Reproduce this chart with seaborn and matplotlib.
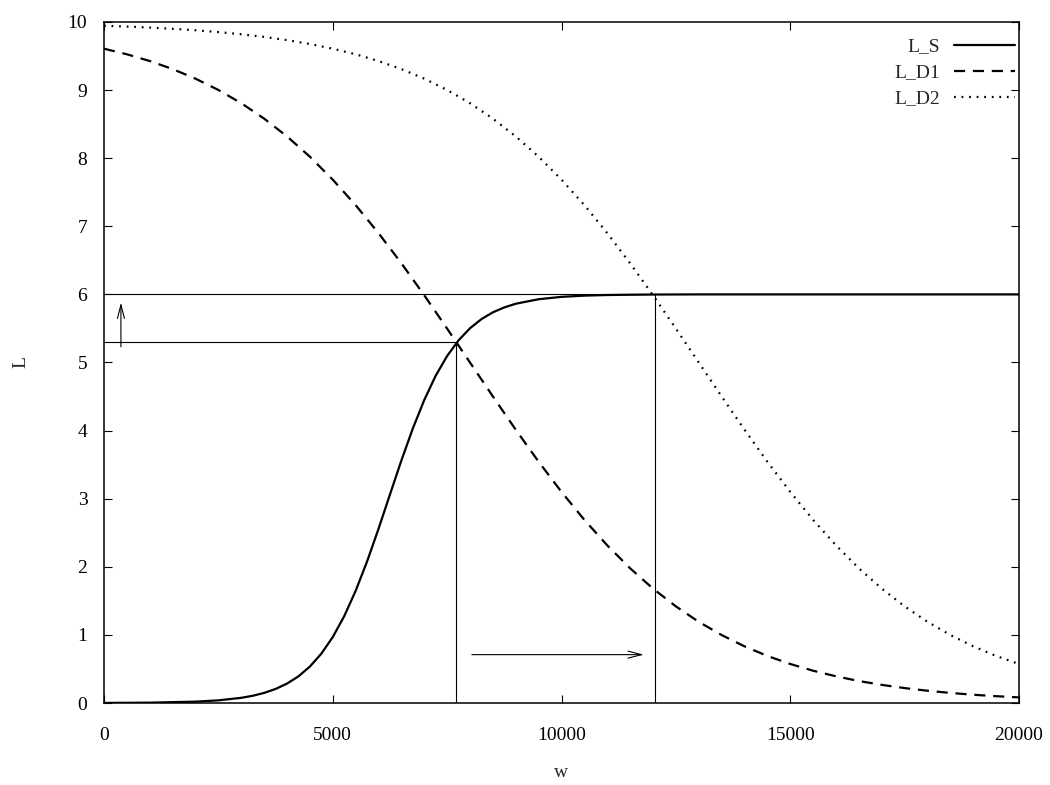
import matplotlib
matplotlib.use("Agg")
import matplotlib.pyplot as plt
import seaborn as sns
import pandas as pd

# ---- data ----
w_s = [0, 1000, 2000, 2500, 3000, 3250, 3500, 3750, 4000, 4250, 4500, 4750,
       5000, 5250, 5500, 5750, 6000, 6250, 6500, 6750, 7000, 7250, 7500, 7750,
       8000, 8250, 8500, 8750, 9000, 9500, 10000, 10500, 11000, 11500, 12000,
       13000, 14000, 16000, 18000, 20000]
L_S = [0.001, 0.005, 0.020, 0.039, 0.076, 0.106, 0.148, 0.206, 0.285, 0.391,
       0.535, 0.724, 0.968, 1.274, 1.646, 2.078, 2.557, 3.061, 3.561, 4.031,
       4.449, 4.806, 5.096, 5.326, 5.503, 5.637, 5.737, 5.809, 5.863, 5.929,
       5.964, 5.982, 5.991, 5.995, 5.998, 6.0, 6.0, 6.0, 6.0, 6.0]

w_d = list(range(0, 20001, 500))
L_D1 = [9.608, 9.526, 9.427, 9.309, 9.168, 9.002, 8.808, 8.581, 8.320, 8.022,
        7.685, 7.311, 6.900, 6.457, 5.987, 5.498, 5.000, 4.502, 4.013, 3.543,
        3.100, 2.689, 2.315, 1.978, 1.680, 1.419, 1.192, 0.998, 0.832, 0.691,
        0.573, 0.474, 0.392, 0.323, 0.266, 0.219, 0.180, 0.148, 0.121, 0.100,
        0.082]
L_D2 = [9.945, 9.933, 9.918, 9.900, 9.879, 9.852, 9.820, 9.781, 9.734, 9.677,
        9.608, 9.526, 9.427, 9.309, 9.168, 9.002, 8.808, 8.581, 8.320, 8.022,
        7.685, 7.311, 6.900, 6.457, 5.987, 5.498, 5.000, 4.502, 4.013, 3.543,
        3.100, 2.689, 2.315, 1.978, 1.680, 1.419, 1.192, 0.998, 0.832, 0.691,
        0.573]

# guide lines / annotations
w_eq1, L_eq1 = 7700, 5.3
w_eq2, L_eq2 = 12040, 6.0
up_arrow_w, up_arrow_L = 370, (5.23, 5.88)
right_arrow_L, right_arrow_w = 0.71, (8040, 11800)

xticks = [0, 5000, 10000, 15000, 20000]
yticks = list(range(0, 11))

# ---- style ----
sns.set_theme(style="ticks")
plt.rcParams["font.family"] = ["Liberation Serif", "DejaVu Serif"]
FS = 14
plt.rcParams["font.size"] = FS

W, H = 1050, 785
fig = plt.figure(figsize=(W / 100, H / 100), dpi=100)
ax = fig.add_axes([104 / W, 1 - 703 / H, (1019 - 104) / W, (703 - 22) / H])

df_s = pd.DataFrame({"w": w_s, "L": L_S})
df_d1 = pd.DataFrame({"w": w_d, "L": L_D1})
df_d2 = pd.DataFrame({"w": w_d, "L": L_D2})

sns.lineplot(data=df_s, x="w", y="L", ax=ax, color="black", lw=1.6,
             label="L_S", sort=False, errorbar=None)
sns.lineplot(data=df_d1, x="w", y="L", ax=ax, color="black", lw=1.6,
             label="L_D1", sort=False, errorbar=None)
ax.lines[-1].set_dashes([5, 3.5])
sns.lineplot(data=df_d2, x="w", y="L", ax=ax, color="black", lw=1.6,
             label="L_D2", sort=False, errorbar=None)
ax.lines[-1].set_dashes([0.8, 2.6])

# thin guide lines
ax.plot([0, w_eq1], [L_eq1, L_eq1], color="black", lw=0.8)
ax.plot([w_eq1, w_eq1], [0, L_eq1], color="black", lw=0.8)
ax.plot([0, w_eq2], [L_eq2, L_eq2], color="black", lw=0.8)
ax.plot([w_eq2, w_eq2], [0, L_eq2], color="black", lw=0.8)

arrow_style = dict(arrowstyle="->,head_length=0.7,head_width=0.18",
                   color="black", lw=0.8, shrinkA=0, shrinkB=0)
ax.annotate("", xy=(up_arrow_w, up_arrow_L[1]), xytext=(up_arrow_w, up_arrow_L[0]),
            arrowprops=arrow_style)
ax.annotate("", xy=(right_arrow_w[1], right_arrow_L), xytext=(right_arrow_w[0], right_arrow_L),
            arrowprops=arrow_style)

ax.set_xlim(0, 20000)
ax.set_ylim(0, 10)
ax.set_xticks(xticks)
ax.set_yticks(yticks)
ax.tick_params(direction="in", length=6, width=0.8, top=True, right=True,
               labelsize=FS, colors="black")
ax.tick_params(axis="x", pad=17)
ax.tick_params(axis="y", pad=12)
for sp in ax.spines.values():
    sp.set_linewidth(1.1)
    sp.set_color("black")

ax.set_xlabel("w", fontsize=FS)
ax.set_ylabel("L", fontsize=FS)
ax.xaxis.set_label_coords(0.5, -(764 - 703) / 681)
ax.yaxis.set_label_coords(-(104 - 29) / 915, 0.5)

leg = ax.legend(loc="upper right", frameon=False, markerfirst=False,
                bbox_to_anchor=(1015 / W, 1 - 38 / H), bbox_transform=fig.transFigure,
                handlelength=3.15, fontsize=FS, labelspacing=0.43,
                borderpad=0, borderaxespad=0, handletextpad=0.72)

fig.savefig("out.png", dpi=100)
